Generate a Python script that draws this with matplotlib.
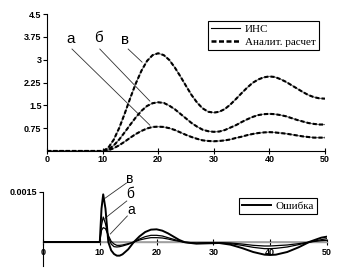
import numpy as np
import matplotlib
matplotlib.use("Agg")
import matplotlib.pyplot as plt

# Верхний график: отклик (ИНС / аналит. расчет), кривые а, б, в
t = [0] + list(range(10, 51))
resp_v = [0, 0, 0.10, 0.37, 0.76, 1.24, 1.75, 2.23, 2.64, 2.96, 3.15, 3.21, 3.15, 2.99,
          2.74, 2.45, 2.14, 1.84, 1.59, 1.40, 1.29, 1.26, 1.29, 1.38, 1.53, 1.71, 1.90,
          2.08, 2.24, 2.35, 2.42, 2.45, 2.43, 2.36, 2.27, 2.16, 2.05, 1.94, 1.84, 1.77,
          1.73, 1.72]
resp_b = [0, 0, 0.05, 0.18, 0.38, 0.62, 0.87, 1.11, 1.32, 1.48, 1.57, 1.60, 1.58, 1.49,
          1.37, 1.22, 1.07, 0.92, 0.80, 0.70, 0.65, 0.63, 0.64, 0.69, 0.77, 0.85, 0.95,
          1.04, 1.12, 1.18, 1.21, 1.22, 1.21, 1.18, 1.14, 1.08, 1.02, 0.97, 0.92, 0.89,
          0.87, 0.87]
resp_a = [0, 0, 0.02, 0.09, 0.19, 0.31, 0.44, 0.56, 0.66, 0.74, 0.79, 0.80, 0.79, 0.75,
          0.69, 0.61, 0.53, 0.46, 0.40, 0.35, 0.33, 0.32, 0.33, 0.35, 0.38, 0.43, 0.47,
          0.52, 0.56, 0.59, 0.61, 0.62, 0.61, 0.59, 0.57, 0.54, 0.51, 0.48, 0.46, 0.44,
          0.44, 0.44]

# Нижний график: ошибка (x 1e-4)
t_err = [0, 10, 10.3, 10.6, 11, 11.5, 12, 12.5, 13, 13.5, 14, 15, 16, 17, 18, 19, 20,
         21, 22, 23, 24, 25, 27, 29, 31, 33, 35, 37, 39, 40, 41, 43, 45, 47, 49, 50]
err_v = [0, 0, 10, 14.3, 10, 0, -2.5, -3.6, -4.1, -4.1, -3.7, -2.2, 0, 1.7, 3.0, 3.7,
         3.8, 3.4, 2.6, 1.6, 0.6, -0.1, -0.5, -0.4, -0.3, -0.8, -1.8, -3.0, -3.8, -3.9,
         -3.8, -3.0, -1.6, 0.1, 1.3, 1.6]
err_b = [0, 0, 5, 7.5, 5.5, 1.5, -0.6, -1.4, -1.5, -1.4, -1.2, -0.7, 0, 0.9, 1.6, 2.0,
         2.0, 1.8, 1.3, 0.8, 0.3, -0.1, -0.4, -0.3, -0.3, -0.5, -1.0, -1.6, -2.0, -2.0,
         -1.9, -1.5, -0.8, 0.0, 0.7, 1.0]
err_a = [0, 0, 3.5, 4.3, 4.0, 2.0, 0.2, -0.6, -1.0, -1.0, -0.9, -0.5, 0, 0.6, 1.0, 1.3,
         1.3, 1.2, 0.9, 0.5, 0.2, -0.1, -0.3, -0.2, -0.2, -0.3, -0.6, -1.0, -1.2, -1.2,
         -1.1, -0.9, -0.5, 0.0, 0.4, 0.5]

x_ticks = [0, 10, 20, 30, 40, 50]
y_ticks_top = [0.75, 1.5, 2.25, 3, 3.75, 4.5]
y_labels_top = ["0.75", "1.5", "2.25", "3", "3.75", "4.5"]

tick_font = dict(family="Liberation Sans", weight="bold", size=6.5)
serif = "Liberation Serif"

fig = plt.figure(figsize=(3.53, 2.78), dpi=100)

# ---- верхний график
ax = fig.add_axes([0.1331, 0.4568, 0.7875, 0.4928])
for y in (resp_a, resp_b, resp_v):
    ax.plot(t, y, color="#707070", lw=0.8, zorder=2)
    ax.plot(t, y, color="black", lw=1.5, dashes=(2.0, 1.0), zorder=3)
ax.set_xlim(0, 50)
ax.set_ylim(0, 4.5)
for s in ("top", "right"):
    ax.spines[s].set_visible(False)
ax.spines["left"].set_linewidth(0.8)
ax.spines["bottom"].set_linewidth(0.8)
ax.set_xticks(x_ticks)
ax.set_xticklabels([str(v) for v in x_ticks], fontdict=tick_font)
ax.set_yticks(y_ticks_top)
ax.set_yticklabels(y_labels_top, fontdict=tick_font)
ax.tick_params(axis="x", direction="inout", length=4, width=0.8, pad=1)
ax.tick_params(axis="y", direction="out", length=3, width=0.8, pad=1)

# подписи кривых а, б, в
lab_font = dict(family="Liberation Sans", size=11)
for txt, pos, seg in (("а", (4.3, 3.68), ((4.5, 18.5), (3.35, 0.85))),
                      ("б", (9.2, 3.70), ((9.5, 18.5), (3.35, 1.64))),
                      ("в", (14.0, 3.66), ((14.6, 17.1), (3.35, 2.92)))):
    ax.text(pos[0], pos[1], txt, ha="center", va="center", **lab_font)
    ax.plot(seg[0], seg[1], color="#303030", lw=0.6, zorder=1)

h1, = ax.plot([], [], color="black", lw=0.8)
h2, = ax.plot([], [], color="black", lw=1.8, dashes=(2.0, 1.0))
leg = ax.legend([h1, h2], ["ИНС", "Аналит. расчет"], loc="upper right",
                bbox_to_anchor=(0.978, 0.952), prop=dict(family=serif, size=8),
                frameon=True, fancybox=False, edgecolor="black", framealpha=1,
                handlelength=2.6, handletextpad=0.4, borderpad=0.3, labelspacing=0.3,
                borderaxespad=0)
leg.get_frame().set_linewidth(0.8)

# ---- нижний график
ax2 = fig.add_axes([0.1218, 0.0432, 0.8045, 0.2662])
ax2.axhline(0, color="#a0a0a0", lw=1.2, zorder=1)
ax2.plot(t_err, np.array(err_a) * 1e-4, color="black", lw=0.9, zorder=3)
ax2.plot(t_err, np.array(err_b) * 1e-4, color="black", lw=0.9, zorder=3)
ax2.plot(t_err, np.array(err_v) * 1e-4, color="black", lw=1.4, zorder=3)
ax2.set_xlim(0, 50)
ax2.set_ylim(-0.00072, 0.0015)
for s in ("top", "right"):
    ax2.spines[s].set_visible(False)
ax2.spines["bottom"].set_position(("data", 0))
ax2.spines["bottom"].set_color("#a0a0a0")
ax2.spines["bottom"].set_linewidth(1.0)
ax2.spines["left"].set_linewidth(0.8)
ax2.set_xticks(x_ticks)
ax2.set_xticklabels([str(v) for v in x_ticks], fontdict=tick_font)
ax2.set_yticks([0.0015])
ax2.set_yticklabels(["0.0015"], fontdict=tick_font)
ax2.tick_params(axis="x", direction="inout", length=4, width=0.8, pad=2, color="black")
ax2.tick_params(axis="y", direction="out", length=3, width=0.8, pad=1)

lab_font2 = dict(family="Liberation Sans", size=10)
for txt, pos, seg in (("в", (15.3, 0.00189), ((14.7, 10.9), (0.00177, 0.00131))),
                      ("б", (15.3, 0.00143), ((14.75, 10.9), (0.00123, 0.00071))),
                      ("а", (15.5, 0.00096), ((14.85, 11.85), (0.00078, 0.00024)))):
    ax2.text(pos[0], pos[1], txt, ha="center", va="center", clip_on=False, **lab_font2)
    ax2.plot(seg[0], seg[1], color="#303030", lw=0.6, zorder=2, clip_on=False)

h3, = ax2.plot([], [], color="black", lw=1.4)
leg2 = ax2.legend([h3], ["Ошибка"], loc="upper right", bbox_to_anchor=(0.965, 0.92),
                  prop=dict(family=serif, size=8), frameon=True, fancybox=False,
                  edgecolor="black", framealpha=1, handlelength=2.6, handletextpad=0.4,
                  borderpad=0.3, borderaxespad=0)
leg2.get_frame().set_linewidth(0.8)

fig.savefig("out.png", dpi=100)
